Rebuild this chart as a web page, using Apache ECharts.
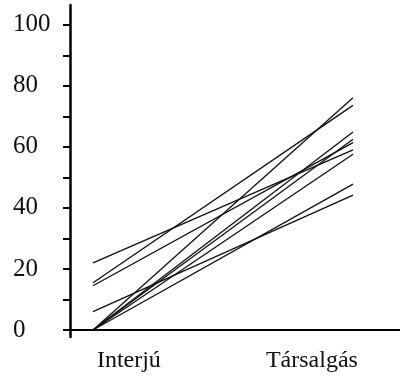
<!DOCTYPE html>
<html>
<head>
<meta charset="utf-8">
<script src="https://cdn.jsdelivr.net/npm/echarts@6/dist/echarts.min.js"></script>
<style>
  html, body { margin: 0; padding: 0; background: #fff; }
  #chart { width: 400px; height: 376px; }
</style>
</head>
<body>
<div id="chart"></div>
<script>
// one line per speaker: score in the interview vs. in conversation
const interju    = [22, 15.5, 14.5, 6, 0, 0, 0, 0, 0]
const tarsalgas  = [59, 73.6, 61.4, 44.2, 76.1, 64.9, 62.5, 57.6, 47.8]

const categories = ['Interjú', 'Társalgás']
const catPos     = [1, 2]          // x value of the two conditions
const labelPos   = [1.138, 1.842]  // where the category names sit

const yTicks  = [0, 10, 20, 30, 40, 50, 60, 70, 80, 90, 100]
const yLabels = [0, 20, 40, 60, 80, 100]

const chart = echarts.init(document.getElementById('chart'))

const series = interju.map((v, i) => ({
  type: 'line',
  data: [[catPos[0], v], [catPos[1], tarsalgas[i]]],
  symbol: 'none',
  lineStyle: { color: '#111', width: 1.3 },
  silent: true,
  animation: false,
}))

const font = '"Liberation Serif", "DejaVu Serif", serif'

const option = {
  backgroundColor: '#fff',
  animation: false,
  grid: { left: 70, right: 0, top: 5, bottom: 39, containLabel: false, outerBoundsMode: 'none' },
  xAxis: {
    type: 'value',
    min: 0.9115,
    max: 2.1808,
    splitLine: { show: false },
    axisLine: { onZero: true, lineStyle: { color: '#000', width: 2 } },
    axisTick: { show: false },
    axisLabel: {
      customValues: labelPos,
      formatter: (val) => categories[labelPos.indexOf(val)] ?? '',
      color: '#111',
      fontFamily: font,
      fontSize: 24,
      margin: 12,
    },
  },
  yAxis: {
    type: 'value',
    min: -2.3,
    max: 106.5,
    splitLine: { show: false },
    axisLine: { show: true, lineStyle: { color: '#000', width: 2.5 } },
    axisTick: {
      show: true,
      customValues: yTicks,
      length: 7,
      lineStyle: { color: '#000', width: 2 },
    },
    axisLabel: {
      customValues: yLabels,
      color: '#111',
      fontFamily: font,
      fontSize: 25,
      align: 'left',
      margin: 57,
    },
  },
  series,
}

chart.setOption(option)
</script>
</body>
</html>
